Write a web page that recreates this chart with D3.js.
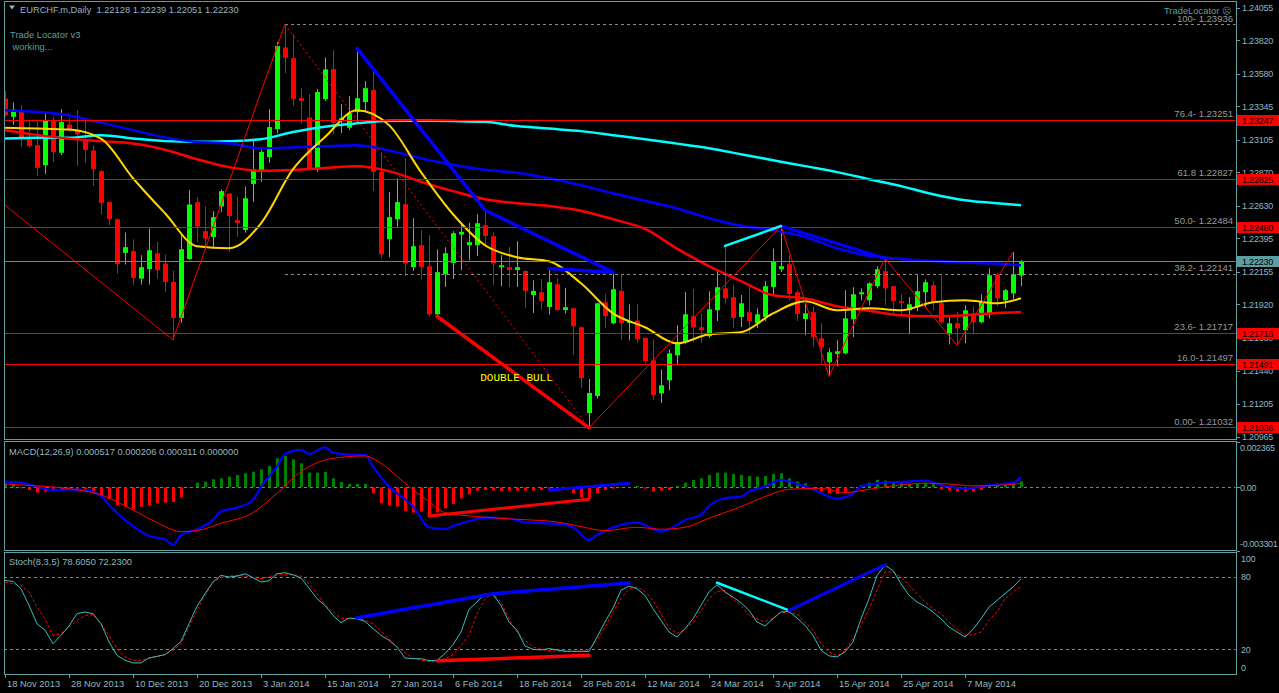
<!DOCTYPE html>
<html><head><meta charset="utf-8">
<script src="https://cdn.jsdelivr.net/npm/d3@7"></script>
<style>html,body{margin:0;padding:0;background:#000;overflow:hidden}</style>
</head><body><svg id="c" width="1279" height="693"></svg>
<script>
// ---------------- DATA ----------------
const symbolTitle = "EURCHF.m,Daily  1.22128 1.22239 1.22051 1.22230";
const open = [1.23402,1.23270,1.23318,1.23114,1.23066,1.22922,1.23244,1.23011,1.23215,1.23172,
1.23109,1.23028,1.22879,1.22656,1.22533,1.22291,1.22303,1.22106,1.22175,1.22288,
1.22214,1.22082,1.21823,1.22247,1.22656,1.22447,1.22406,1.22625,1.22718,1.22526,
1.22456,1.22787,1.22874,1.22980,1.23181,1.23769,1.23692,1.23404,1.23265,1.22893,
1.23397,1.23613,1.23239,1.23191,1.23304,1.23376,1.23462,1.22874,1.22389,1.22533,
1.22641,1.22188,1.22346,1.22195,1.21849,1.22137,1.22219,1.22423,1.22346,1.22346,
1.22490,1.22411,1.22188,1.22188,1.22168,1.22161,1.21988,1.22008,1.21902,1.22065,
1.21880,1.21892,1.21756,1.21139,1.21261,1.21936,1.21784,1.22017,1.21787,1.21804,
1.21679,1.21518,1.21280,1.21374,1.21554,1.21648,1.21835,1.21756,1.21691,1.21878,
1.22036,1.21972,1.21830,1.21864,1.21784,1.21830,1.22046,1.22173,1.22209,1.22008,
1.21815,1.21864,1.21676,1.21504,1.21563,1.21568,1.21813,1.21993,1.21950,1.22051,
1.22159,1.22051,1.21943,1.21878,1.21900,1.22008,1.22058,1.21928,1.21705,1.21784,
1.21734,1.21856,1.21792,1.21849,1.22137,1.21950,1.22000,1.22128];
const high = [1.23455,1.23373,1.23354,1.23239,1.23234,1.23291,1.23268,1.23325,1.23258,1.23318,
1.23244,1.23066,1.22885,1.22660,1.22537,1.22437,1.22389,1.22274,1.22466,1.22370,
1.22279,1.22164,1.22430,1.22744,1.22692,1.22625,1.22591,1.22747,1.22722,1.22694,
1.22769,1.23114,1.23054,1.23325,1.23808,1.23936,1.23865,1.23474,1.23433,1.23471,
1.23697,1.23750,1.23361,1.23419,1.23762,1.23527,1.23613,1.23008,1.22728,1.22828,
1.22972,1.22540,1.22454,1.22418,1.22317,1.22332,1.22447,1.22507,1.22507,1.22569,
1.22598,1.22440,1.22274,1.22334,1.22375,1.22165,1.22094,1.22103,1.22178,1.22108,
1.22039,1.21895,1.21760,1.21383,1.21932,1.21995,1.22152,1.22139,1.21921,1.21921,
1.21683,1.21669,1.21453,1.21597,1.21770,1.22010,1.22031,1.21854,1.22015,1.22166,
1.22341,1.22058,1.21988,1.22046,1.21892,1.22089,1.22322,1.22484,1.22274,1.22027,
1.21957,1.21907,1.21784,1.21604,1.21662,1.22022,1.22044,1.22036,1.22080,1.22195,
1.22252,1.22055,1.21993,1.21974,1.22130,1.22101,1.22087,1.22130,1.21828,1.21864,
1.21914,1.21907,1.21993,1.22180,1.22144,1.22031,1.22296,1.22239];
const low = [1.23270,1.23210,1.23054,1.23050,1.22845,1.22859,1.22946,1.22994,1.23162,1.22917,
1.22939,1.22773,1.22567,1.22490,1.22142,1.22207,1.22058,1.22063,1.22063,1.22106,
1.22010,1.21665,1.21789,1.22240,1.22370,1.22310,1.22322,1.22586,1.22298,1.22406,
1.22437,1.22658,1.22802,1.22939,1.23152,1.23584,1.23347,1.23222,1.22886,1.22874,
1.23385,1.23145,1.23152,1.23174,1.23227,1.23311,1.22737,1.22252,1.22260,1.22478,
1.22125,1.22161,1.22101,1.21835,1.21835,1.22046,1.22103,1.22166,1.22238,1.22267,
1.22334,1.22058,1.22051,1.22046,1.22046,1.21895,1.21859,1.21883,1.21847,1.21875,
1.21854,1.21559,1.21319,1.21032,1.21242,1.21748,1.21777,1.21662,1.21662,1.21643,
1.21494,1.21230,1.21211,1.21302,1.21482,1.21638,1.21650,1.21643,1.21679,1.21801,
1.21926,1.21753,1.21758,1.21710,1.21751,1.21801,1.21986,1.22154,1.21950,1.21801,
1.21698,1.21619,1.21496,1.21403,1.21475,1.21561,1.21686,1.21950,1.21914,1.22036,
1.21914,1.21854,1.21842,1.21705,1.21871,1.21900,1.21878,1.21782,1.21633,1.21626,
1.21640,1.21705,1.21784,1.21820,1.21907,1.21895,1.21957,1.22051];
const close = [1.23282,1.23323,1.23119,1.23059,1.22903,1.23244,1.23016,1.23232,1.23176,1.23143,
1.23032,1.22895,1.22651,1.22535,1.22211,1.22332,1.22111,1.22188,1.22310,1.22166,
1.22082,1.21823,1.22317,1.22639,1.22481,1.22394,1.22548,1.22735,1.22557,1.22507,
1.22684,1.22893,1.23018,1.23196,1.23779,1.23695,1.23399,1.23385,1.22893,1.23448,
1.23611,1.23227,1.23260,1.23296,1.23404,1.23476,1.22874,1.22281,1.22548,1.22656,
1.22214,1.22339,1.22188,1.21849,1.22152,1.22288,1.22432,1.22442,1.22368,1.22504,
1.22413,1.22214,1.22202,1.22168,1.22188,1.22017,1.22017,1.21945,1.22080,1.21880,
1.21900,1.21763,1.21391,1.21283,1.21928,1.21837,1.22029,1.21784,1.21801,1.21669,
1.21511,1.21268,1.21338,1.21568,1.21648,1.21849,1.21756,1.21734,1.21885,1.22044,
1.21964,1.21823,1.21928,1.21801,1.21849,1.22051,1.22231,1.22195,1.21995,1.21851,
1.21856,1.21686,1.21612,1.21576,1.21583,1.21820,1.21993,1.22008,1.22072,1.22173,
1.22036,1.21945,1.21931,1.21921,1.22015,1.22080,1.21936,1.21792,1.21784,1.21748,
1.21878,1.21792,1.21943,1.22130,1.21964,1.22022,1.22137,1.22230];

const maBars = [0,4,8,12,16,20,24,28,32,36,40,44,48,52,56,60,64,68,72,76,80,84,88,92,96,100,104,108,112,116,120,124,127];
const maYellow = [1.23191,1.23186,1.23178,1.23113,1.22828,1.22576,1.22339,1.22324,1.22504,1.22893,1.23124,1.23318,1.23210,1.22872,1.22569,1.22346,1.22260,1.22231,1.22072,1.21856,1.21756,1.21640,1.21705,1.21720,1.21856,1.21943,1.21878,1.21892,1.21878,1.21936,1.21950,1.21928,1.21964];
const maRed = [1.23174,1.23140,1.23113,1.23095,1.23078,1.23033,1.22965,1.22908,1.22882,1.22888,1.22902,1.22915,1.22879,1.22803,1.22735,1.22677,1.22648,1.22629,1.22594,1.22533,1.22463,1.22322,1.22195,1.22087,1.21986,1.21964,1.21907,1.21874,1.21842,1.21835,1.21842,1.21859,1.21864];
const maBlue = [1.23318,1.23305,1.23280,1.23228,1.23174,1.23122,1.23088,1.23079,1.23044,1.23050,1.23059,1.23065,1.23028,1.22972,1.22925,1.22889,1.22867,1.22828,1.22778,1.22720,1.22666,1.22610,1.22540,1.22486,1.22455,1.22407,1.22324,1.22270,1.22247,1.22232,1.22221,1.22214,1.22202];
const maCyan = [1.23114,1.23119,1.23119,1.23138,1.23114,1.23095,1.23090,1.23095,1.23109,1.23160,1.23199,1.23223,1.23241,1.23241,1.23239,1.23234,1.23203,1.23185,1.23167,1.23138,1.23109,1.23077,1.23044,1.23001,1.22958,1.22915,1.22872,1.22821,1.22771,1.22713,1.22670,1.22648,1.22634];

const priceTicks = [1.24055,1.23820,1.23580,1.23345,1.23105,1.22870,1.22630,1.22395,1.22155,1.21920,1.21680,1.21440,1.21205,1.20965];
const levelPrices = [1.23247,1.22825,1.22480,1.21716,1.21491,1.21036];
const currentPrice = 1.22230;
const fibPrices = [1.23936,1.23251,1.22827,1.22484,1.22141,1.21717,1.21497,1.21032];
const fibLabels = ["100- 1.23936","76.4- 1.23251","61.8 1.22827","50.0- 1.22484","38.2- 1.22141","23.6- 1.21717","16.0-1.21497","0.00- 1.21032"];
const fibDashed = [1.23936,1.22141];
const fibStartBar = 35;

const zzBars = [0,21,35,73,97,103,110,119,126];
const zzPrices = [1.22634,1.21665,1.23936,1.21032,1.22484,1.21403,1.22252,1.21626,1.22296];

const blueTrendMainA = [[44,1.23762],[60,1.22598],[76,1.22152]];
const blueTrendMainB = [[68,1.22178],[76,1.22152]];
const blueTrendMainC = [[97,1.22484],[110,1.22252]];
const cyanTrendMain = [[90,1.22341],[97,1.22484]];
const redTrendMain = [[54,1.21835],[73,1.21032]];
const patternText = "DOUBLE BULL";
const patternAt = [59.4, 1.21370];

const macdTitle = "MACD(12,26,9) 0.000517 0.000206 0.000311 0.000000";
const macdHist = [0.000174,0.000157,-0.000052,-0.000139,-0.000278,-0.000226,-0.000174,-0.000139,-0.000139,-0.000174,
-0.000226,-0.000313,-0.000452,-0.000626,-0.000922,-0.001009,-0.001131,-0.001009,-0.000940,-0.000835,
-0.000800,-0.000766,-0.000522,0,0.000244,0.000296,0.000418,0.000470,0.000557,0.000644,
0.000731,0.000818,0.000940,0.001114,0.001514,0.001636,0.001462,0.001253,0.000766,0.000766,
0.000800,0.000470,0.000278,0.000174,0.000174,0.000174,-0.000313,-0.000835,-0.000940,-0.001009,
-0.001235,-0.001322,-0.001270,-0.001566,-0.001322,-0.001096,-0.000870,-0.000574,-0.000365,-0.000174,
-0.000139,-0.000174,-0.000191,-0.000174,-0.000174,-0.000174,-0.000174,-0.000139,-0.000139,-0.000174,
-0.000139,-0.000313,-0.000522,-0.000574,-0.000313,-0.000139,-0.000070,-0.000035,0.000017,0.000070,
-0.000070,-0.000226,-0.000174,-0.000139,0.000070,0.000244,0.000383,0.000470,0.000644,0.000766,
0.000766,0.000696,0.000644,0.000592,0.000557,0.000592,0.000696,0.000731,0.000470,0.000296,
0.000209,-0.000104,-0.000226,-0.000313,-0.000348,-0.000278,-0.000052,0.000122,0.000244,0.000383,
0.000348,0.000278,0.000209,0.000174,0.000209,0.000244,0.000209,-0.000104,-0.000174,-0.000226,
-0.000226,-0.000226,-0.000139,0.000122,0.000157,0.000174,0.000244,0.000311];
const macdBars = [0,2,4,6,8,10,12,13,15,17,18,20,21,22,24,26,27,29,31,32,34,35,37,38,40,41,43,45,46,48,50,51,53,55,56,58,60,63,65,69,71,73,74,76,79,80,82,83,85,87,88,90,92,93,95,97,99,101,102,104,106,107,110,112,115,117,120,122,124,126,127];
const macdMain = [0.000296,0.000244,0.000035,-0.000139,-0.000104,-0.000139,-0.000452,-0.000922,-0.001705,-0.002314,-0.002540,-0.002714,-0.003010,-0.002488,-0.002192,-0.001705,-0.001270,-0.001061,-0.000661,0.000035,0.001079,0.001740,0.001949,0.001740,0.002088,0.001810,0.001705,0.001688,0.001079,0.000035,-0.000626,-0.001009,-0.002088,-0.002192,-0.002018,-0.001775,-0.001583,-0.001636,-0.001827,-0.001914,-0.002088,-0.002749,-0.002488,-0.002088,-0.001844,-0.001966,-0.002314,-0.002192,-0.001705,-0.001444,-0.000974,-0.000574,-0.000487,-0.000226,0.000035,0.000383,0.000174,-0.000104,-0.000313,-0.000592,-0.000313,0.000035,0.000244,0.000278,0.000348,0.000122,-0.000070,0.000035,0.000157,0.000244,0.000517];
const sigBars = [0,4,8,12,16,19,22,24,27,31,34,37,41,45,47,50,53,55,59,64,69,72,75,79,82,85,88,92,95,98,102,105,108,112,115,118,121,125,127];
const macdSignal = [0.000174,0.000070,-0.000070,-0.000400,-0.001183,-0.001844,-0.002314,-0.002262,-0.001879,-0.001322,-0.000313,0.000818,0.001514,0.001636,0.001253,0.000209,-0.000748,-0.001322,-0.001531,-0.001670,-0.001810,-0.002053,-0.002262,-0.002088,-0.002192,-0.002088,-0.001618,-0.001009,-0.000487,-0.000104,-0.000052,-0.000278,-0.000104,0.000122,0.000209,0.000174,0.000070,0.000122,0.000206];
const macdRedTrend = [[53,-0.001496],[73,-0.000626]];
const macdBlueTrend = [[68,-0.000139],[78,0.000209]];
const macdTicks = [0.002365,0,-0.003301];
const macdTickLabels = ["0.002365","0.00","-0.003301"];

const stochTitle = "Stoch(8,3,5) 78.6050 72.2300";
const stochK = [77.2,76.4,70.3,56.5,41.3,36.0,24.7,31.6,39.4,49.6,
51.0,49.6,41.3,26.1,15.0,10.9,8.7,8.7,12.8,14.2,
15.6,20.6,26.6,41.3,55.9,66.2,75.9,81.4,80.0,80.8,
82.8,79.5,75.9,77.0,82.8,83.6,81.9,79.2,70.9,62.0,
56.5,48.2,42.1,46.0,45.4,43.2,37.2,31.6,27.5,21.9,
12.8,12.2,12.2,10.6,10.9,16.4,23.9,34.4,53.2,59.3,
66.2,65.4,56.5,42.7,35.8,22.8,20.0,19.5,20.6,19.5,
18.4,18.4,18.4,18.1,30.2,42.7,54.3,69.0,72.5,70.3,
64.8,53.7,44.1,34.4,30.2,37.2,45.4,56.5,67.6,73.6,
67.6,63.4,58.7,52.4,42.7,39.4,45.4,51.0,51.5,46.0,
39.9,31.6,19.2,14.5,13.7,17.8,26.1,45.4,62.0,81.4,
89.7,85.5,74.5,64.8,59.3,55.7,51.0,45.4,38.5,34.4,
30.2,36.6,45.4,55.1,60.6,66.2,71.7,78.6];
const stochD = [75.9,74.5,73.1,67.6,55.1,45.4,31.6,33.0,38.5,44.1,
48.2,48.8,41.3,31.6,20.6,13.7,10.9,10.9,12.8,13.9,
15.6,19.2,24.7,38.5,52.4,64.8,75.9,79.7,80.8,81.4,
80.8,79.7,78.6,80.3,81.9,81.9,81.9,80.8,74.5,66.2,
57.0,51.0,46.0,45.4,45.4,44.1,41.3,34.9,28.9,21.9,
17.2,12.8,10.9,10.0,10.0,12.3,15.6,23.3,31.6,49.6,
62.0,66.2,59.3,45.4,34.4,27.5,21.9,20.0,18.9,18.6,
18.4,18.1,17.8,20.0,27.5,38.5,51.0,62.0,70.3,71.7,
68.1,60.6,49.6,37.7,33.0,36.6,42.1,52.4,62.0,68.1,
68.9,61.5,56.5,48.2,45.4,42.7,46.0,51.0,50.4,49.6,
42.1,35.8,24.7,17.8,14.5,19.2,28.9,39.9,53.7,68.9,
84.2,84.2,80.0,73.1,66.2,59.3,53.7,49.6,42.7,36.6,
31.6,32.2,34.4,44.1,51.0,62.0,67.6,72.2];
const stochBlueTrendA = [[44,46.2],[61,66.2],[78,75.0]];
const stochRedTrend = [[54,10.5],[73,15.0]];
const stochCyanTrend = [[89,75.3],[98,52.4]];
const stochBlueTrendB = [[98,52.4],[110,90.2]];
const stochTicks = [100,80,20,0];
const stochLevels = [80,20];

const dateLabels = ["18 Nov 2013","28 Nov 2013","10 Dec 2013","20 Dec 2013","3 Jan 2014","15 Jan 2014","27 Jan 2014","6 Feb 2014","18 Feb 2014","28 Feb 2014","12 Mar 2014","24 Mar 2014","3 Apr 2014","15 Apr 2014","25 Apr 2014","7 May 2014"];
const dateLabelStep = 8;

// ---------------- DRAW ----------------
const svg = d3.select('#c');
const FONT = '"Liberation Sans", Arial, sans-serif';
const AX = '#8fb6c3', FR = '#5f9ea0', GRAY = '#9a9a9a';
const L = 4, R = 1236;
const P1 = {top: 1.5, bottom: 439.5}, P2 = {top: 441.5, bottom: 550.5}, P3 = {top: 552.5, bottom: 674.5};

svg.append('rect').attr('width', 1279).attr('height', 693).attr('fill', '#000');

const x = d3.scaleLinear().domain([0, 127]).range([5, 1021]);
const y = d3.scaleLinear().domain([1.21036, 1.23247]).range([427.3, 120]);
const ym = d3.scaleLinear().domain([-0.003301, 0.002365]).range([550.5, 442]);
const ys = d3.scaleLinear().domain([0, 100]).range([673.4, 553]);

const defs = svg.append('defs');
function clip(id, p) {
  defs.append('clipPath').attr('id', id).append('rect')
    .attr('x', L + 0.5).attr('y', p.top + 0.5).attr('width', R - L - 1).attr('height', p.bottom - p.top - 1);
  return svg.append('g').attr('clip-path', `url(#${id})`);
}
const g1 = clip('c1', P1), g2 = clip('c2', P2), g3 = clip('c3', P3);

// ---- main panel ----
const idx = d3.range(open.length);
const cg = g1.append('g');
idx.forEach(i => {
  const bull = close[i] >= open[i];
  const col = bull ? '#00ff00' : '#ff0000';
  const cx = Math.round(x(i));
  cg.append('line').attr('x1', cx + 0.5).attr('x2', cx + 0.5)
    .attr('y1', y(high[i])).attr('y2', y(low[i])).attr('stroke', col).attr('stroke-width', 1);
  const t = y(Math.max(open[i], close[i])), b = y(Math.min(open[i], close[i]));
  cg.append('rect').attr('x', cx - 2).attr('width', 5).attr('y', t).attr('height', Math.max(1, b - t)).attr('fill', col);
});

function maLine(vals, color, w) {
  const pts = maBars.map((b, k) => [x(b), y(vals[k])]);
  g1.append('path').attr('d', d3.line().curve(d3.curveMonotoneX)(pts))
    .attr('fill', 'none').attr('stroke', color).attr('stroke-width', w);
}
maLine(maCyan, '#00ffff', 2.5);
maLine(maBlue, '#0000ff', 2.5);
maLine(maRed, '#ff0000', 2.5);
maLine(maYellow, '#ffd700', 2);

levelPrices.forEach(p => {
  g1.append('line').attr('x1', L).attr('x2', R).attr('y1', Math.round(y(p)) + 0.5).attr('y2', Math.round(y(p)) + 0.5)
    .attr('stroke', '#ff0000').attr('stroke-width', 1);
});
g1.append('line').attr('x1', L).attr('x2', R).attr('y1', Math.round(y(currentPrice)) + 0.5).attr('y2', Math.round(y(currentPrice)) + 0.5)
  .attr('stroke', '#808080').attr('stroke-width', 1);
fibDashed.forEach(p => {
  g1.append('line').attr('x1', x(fibStartBar)).attr('x2', R).attr('y1', Math.round(y(p)) + 0.5).attr('y2', Math.round(y(p)) + 0.5)
    .attr('stroke', '#8a8a8a').attr('stroke-width', 1).attr('stroke-dasharray', '3,3');
});
fibPrices.forEach((p, k) => {
  g1.append('text').attr('x', R - 3).attr('y', y(p) - 2.5).attr('text-anchor', 'end')
    .attr('font-family', FONT).attr('font-size', 9.5).attr('fill', GRAY).text(fibLabels[k]);
});

for (let k = 0; k < zzBars.length - 1; k++) {
  g1.append('line').attr('x1', x(zzBars[k])).attr('y1', y(zzPrices[k]))
    .attr('x2', x(zzBars[k + 1])).attr('y2', y(zzPrices[k + 1]))
    .attr('stroke', '#ff0000').attr('stroke-width', 1)
    .attr('stroke-dasharray', zzBars[k] === fibStartBar ? '2,3' : null);
}

function trend(g, ys_, pts, color, w) {
  g.append('path').attr('d', d3.line()(pts.map(p => [x(p[0]), ys_(p[1])])))
    .attr('fill', 'none').attr('stroke', color).attr('stroke-width', w).attr('stroke-linecap', 'round');
}
trend(g1, y, blueTrendMainA, '#0000ff', 3.5);
trend(g1, y, blueTrendMainB, '#0000ff', 3.5);
trend(g1, y, blueTrendMainC, '#0000ff', 3);
trend(g1, y, cyanTrendMain, '#00ffff', 2.5);
trend(g1, y, redTrendMain, '#ff0000', 3.5);

g1.append('text').attr('x', x(patternAt[0])).attr('y', y(patternAt[1]))
  .attr('font-family', '"Liberation Mono", "DejaVu Sans Mono", monospace').attr('font-size', 11)
  .attr('fill', '#ffff00').text(patternText);

// header texts
svg.append('path').attr('d', 'M9,5.5 L15,5.5 L12,9.5 Z').attr('fill', AX);
svg.append('text').attr('x', 20).attr('y', 12.5).attr('font-family', FONT).attr('font-size', 9.3)
  .attr('xml:space', 'preserve').style('white-space', 'pre')
  .attr('fill', AX).text(symbolTitle);
svg.append('text').attr('x', 10).attr('y', 38).attr('font-family', FONT).attr('font-size', 9.4)
  .attr('fill', '#5f9ea0').text('Trade Locator v3');
svg.append('text').attr('x', 12.5).attr('y', 49.5).attr('font-family', FONT).attr('font-size', 9.4)
  .attr('fill', '#5f9ea0').text('working...');
svg.append('text').attr('x', 1231).attr('y', 14).attr('text-anchor', 'end').attr('font-family', FONT).attr('font-size', 9.4)
  .attr('fill', '#5f9ea0').text('TradeLocator \u2639');

// ---- MACD panel ----
g2.append('line').attr('x1', L).attr('x2', R).attr('y1', Math.round(ym(0)) + 0.5).attr('y2', Math.round(ym(0)) + 0.5)
  .attr('stroke', '#808080').attr('stroke-dasharray', '3,3');
idx.forEach(i => {
  const v = macdHist[i];
  const y0 = ym(0), y1 = ym(v);
  g2.append('rect').attr('x', Math.round(x(i)) - 1).attr('width', 3)
    .attr('y', Math.min(y0, y1)).attr('height', Math.max(0.5, Math.abs(y1 - y0)))
    .attr('fill', v >= 0 ? '#008000' : '#ff0000');
});
g2.append('path').attr('d', d3.line().curve(d3.curveMonotoneX)(macdBars.map((b, k) => [x(b), ym(macdMain[k])])))
  .attr('fill', 'none').attr('stroke', '#0000ff').attr('stroke-width', 2.2);
g2.append('path').attr('d', d3.line().curve(d3.curveMonotoneX)(sigBars.map((b, k) => [x(b), ym(macdSignal[k])])))
  .attr('fill', 'none').attr('stroke', '#ff0000').attr('stroke-width', 1);
trend(g2, ym, macdRedTrend, '#ff0000', 3);
trend(g2, ym, macdBlueTrend, '#0000ff', 3);
svg.append('text').attr('x', 9).attr('y', 455).attr('font-family', FONT).attr('font-size', 9.3)
  .attr('fill', AX).text(macdTitle);

// ---- Stoch panel ----
stochLevels.forEach(lv => {
  g3.append('line').attr('x1', L).attr('x2', R).attr('y1', Math.round(ys(lv)) + 0.5).attr('y2', Math.round(ys(lv)) + 0.5)
    .attr('stroke', '#808080').attr('stroke-dasharray', '3,3');
});
g3.append('path').attr('d', d3.line()(idx.map(i => [x(i), ys(stochD[i])])))
  .attr('fill', 'none').attr('stroke', '#ff0000').attr('stroke-width', 1).attr('stroke-dasharray', '3,2');
g3.append('path').attr('d', d3.line()(idx.map(i => [x(i), ys(stochK[i])])))
  .attr('fill', 'none').attr('stroke', '#3cbcbc').attr('stroke-width', 1);
trend(g3, ys, stochBlueTrendA, '#0000ff', 3.5);
trend(g3, ys, stochRedTrend, '#ff0000', 3.5);
trend(g3, ys, stochCyanTrend, '#00ffff', 2.5);
trend(g3, ys, stochBlueTrendB, '#0000ff', 3);
svg.append('text').attr('x', 9).attr('y', 565).attr('font-family', FONT).attr('font-size', 9.3)
  .attr('fill', AX).text(stochTitle);

// ---- frames ----
[P1, P2, P3].forEach(p => {
  svg.append('rect').attr('x', L + 0.5).attr('y', p.top).attr('width', R - L).attr('height', p.bottom - p.top)
    .attr('fill', 'none').attr('stroke', FR).attr('stroke-width', 1);
});

// ---- right axis: main ----
const axg = svg.append('g').attr('font-family', FONT).attr('font-size', 9).attr('letter-spacing', -0.2).attr('fill', AX);
priceTicks.forEach(p => {
  const yy = Math.round(y(p)) + 0.5;
  svg.append('line').attr('x1', R + 0.5).attr('x2', R + 4).attr('y1', yy).attr('y2', yy).attr('stroke', FR);
  axg.append('text').attr('x', R + 6).attr('y', y(p) + 3.3).text(p.toFixed(5));
});
function priceBox(p, bg) {
  const yy = Math.round(y(p));
  svg.append('rect').attr('x', R + 1).attr('y', yy - 5).attr('width', 1279 - R - 1).attr('height', 11).attr('fill', bg);
  svg.append('text').attr('x', R + 6).attr('y', yy + 3.8).attr('font-family', FONT).attr('font-size', 9)
    .attr('letter-spacing', -0.2).attr('fill', '#000').text(p.toFixed(5));
}
levelPrices.forEach(p => priceBox(p, '#ff0000'));
priceBox(currentPrice, '#5f9ea0');

// ---- right axis: MACD ----
macdTicks.forEach((v, k) => {
  const yy = Math.min(Math.max(ym(v), P2.top + 6.5), P2.bottom - 6.5);
  axg.append('text').attr('x', R + 4).attr('y', yy + 3.3).attr('letter-spacing', -0.35).text(macdTickLabels[k]);
  svg.append('line').attr('x1', R + 0.5).attr('x2', R + 4).attr('y1', Math.round(ym(v)) + 0.5).attr('y2', Math.round(ym(v)) + 0.5).attr('stroke', FR);
});
// ---- right axis: Stoch ----
stochTicks.forEach(v => {
  const yy = Math.min(Math.max(ys(v), P3.top + 6.5), P3.bottom - 6.5);
  axg.append('text').attr('x', R + 5).attr('y', yy + 3.3).text(String(v));
});

// ---- time axis ----
dateLabels.forEach((lab, k) => {
  const bx = Math.round(x(k * dateLabelStep)) + 0.5;
  svg.append('line').attr('x1', bx).attr('x2', bx).attr('y1', P3.bottom).attr('y2', P3.bottom + 3.5).attr('stroke', FR);
  axg.append('text').attr('x', bx + 1.5).attr('y', 687).attr('font-size', 9.4).attr('letter-spacing', 0).text(lab);
});
</script>
</body></html>
